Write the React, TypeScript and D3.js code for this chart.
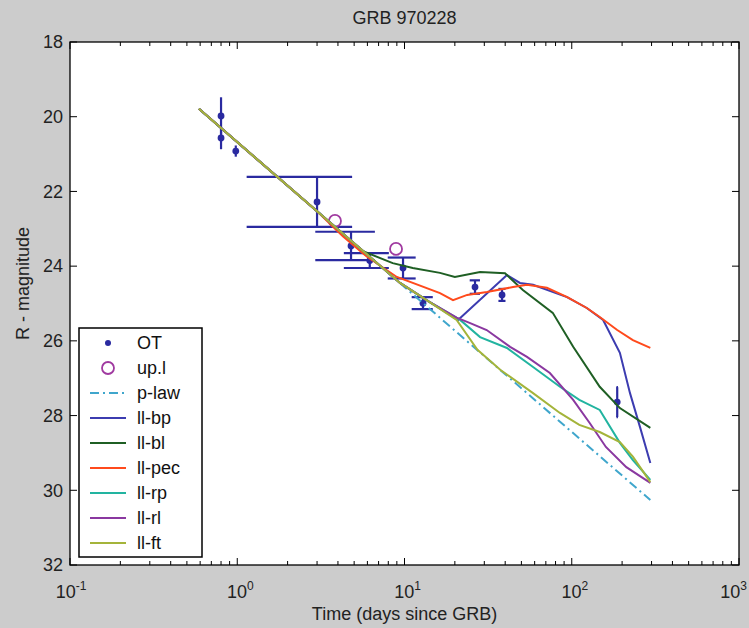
import React, { useEffect, useRef } from "react";
import * as d3 from "d3";

// observed optical transient (days, R mag, 1-sigma)
const otTime = [0.8, 0.8, 0.98, 3.0, 4.79, 6.2, 9.8, 12.9, 26.4, 38.3, 187];
const otMag = [19.98, 20.57, 20.92, 22.28, 23.46, 23.85, 24.05, 24.99, 24.56, 24.77, 27.64];
const otErr = [0.5, 0.3, 0.15, 0.67, 0.38, 0.2, 0.28, 0.16, 0.18, 0.16, 0.4];

// upper limits
const ulTime = [3.84, 8.9];
const ulMag = [22.79, 23.54];

// model curves [days, mag]
const pLaw = [[0.59, 19.79], [295, 30.26]];
const llBp = [[0.59, 19.79], [3, 22.53], [9.4, 24.45], [14, 24.95], [20.9, 25.44], [41, 24.24], [49, 24.45], [58.7, 24.5], [93.7, 24.83], [123, 25.12], [154, 25.44], [194, 26.32], [223, 27.4], [256, 28.31], [295, 29.27]];
const llBl = [[0.59, 19.79], [3, 22.53], [5.65, 23.6], [8.5, 23.92], [11.2, 24.05], [16.3, 24.18], [20, 24.29], [28.3, 24.16], [39.9, 24.19], [51, 24.64], [77, 25.25], [102, 26.16], [147, 27.23], [194, 27.8], [295, 28.33]];
const llPec = [[0.59, 19.79], [3, 22.53], [4.28, 23.2], [5.97, 23.75], [9, 24.29], [16.3, 24.72], [19.5, 24.91], [23.7, 24.77], [31.1, 24.69], [44.6, 24.56], [54, 24.5], [71, 24.58], [94, 24.83], [123, 25.12], [147, 25.36], [187, 25.71], [232, 25.98], [295, 26.19]];
const llRp = [[0.59, 19.79], [3, 22.53], [9.4, 24.45], [14, 24.95], [21.5, 25.44], [28.3, 25.9], [41, 26.19], [58.7, 26.7], [85, 27.23], [111, 27.58], [147, 27.85], [194, 28.73], [232, 29.19], [295, 29.72]];
const llRl = [[0.59, 19.79], [3, 22.53], [9.4, 24.45], [14, 24.95], [20.5, 25.38], [24.5, 25.52], [31, 25.71], [42.8, 26.16], [54, 26.43], [74, 26.86], [102, 27.58], [128, 28.2], [160, 28.84], [212, 29.38], [295, 29.8]];
const llFt = [[0.59, 19.79], [3, 22.53], [9.4, 24.45], [14, 24.95], [20.5, 25.44], [27.3, 26.24], [37.5, 26.78], [58.7, 27.4], [85, 27.93], [111, 28.25], [147, 28.44], [194, 28.71], [232, 29.1], [295, 29.78]];

const xTickExp = [-1, 0, 1, 2, 3];
const yTicks = [18, 20, 22, 24, 26, 28, 30, 32];

const seriesNames = ["OT", "up.l", "p-law", "ll-bp", "ll-bl", "ll-pec", "ll-rp", "ll-rl", "ll-ft"];

const W = 749;
const H = 628;
const FONT = "'Liberation Sans', Arial, sans-serif";

export default function App() {
    const ref = useRef<SVGSVGElement>(null);

    useEffect(() => {
        const svg = d3.select(ref.current);
        svg.selectAll("*").remove();

        const left = 70, right = 739, top = 42, bottom = 565;
        const x = d3.scaleLog().domain([0.1, 1000]).range([left, right]);
        const y = d3.scaleLinear().domain([18, 32]).range([top, bottom]);

        svg.append("rect").attr("width", W).attr("height", H).attr("fill", "#cccccc");
        svg.append("rect")
            .attr("x", left).attr("y", top)
            .attr("width", right - left).attr("height", bottom - top)
            .attr("fill", "#ffffff");

        const colors: Record<string, string> = {
            "p-law": "#3fa6cc",
            "ll-bp": "#3c3cb0",
            "ll-bl": "#1f5f24",
            "ll-pec": "#ff4a1c",
            "ll-rp": "#22b4a0",
            "ll-rl": "#8a38a0",
            "ll-ft": "#a4b43a",
        };
        const otColor = "#2a2aa0";
        const ulColor = "#a03aa0";

        const plot = svg.append("g");

        // error bars, cap half-width is 1% of the time span (in days)
        const tee = (d3.max(otTime)! - d3.min(otTime)!) / 100;
        otTime.forEach((t, i) => {
            const lo = otMag[i] - otErr[i];
            const hi = otMag[i] + otErr[i];
            plot.append("line")
                .attr("x1", x(t)).attr("x2", x(t))
                .attr("y1", y(lo)).attr("y2", y(hi))
                .attr("stroke", otColor).attr("stroke-width", 2.2);
            if (t - tee > 0) {
                [lo, hi].forEach((m) => {
                    plot.append("line")
                        .attr("x1", x(t - tee)).attr("x2", x(t + tee))
                        .attr("y1", y(m)).attr("y2", y(m))
                        .attr("stroke", otColor).attr("stroke-width", 2.2);
                });
            }
            plot.append("circle")
                .attr("cx", x(t)).attr("cy", y(otMag[i]))
                .attr("r", 3.4).attr("fill", otColor);
        });

        ulTime.forEach((t, i) => {
            plot.append("circle")
                .attr("cx", x(t)).attr("cy", y(ulMag[i]))
                .attr("r", 6).attr("fill", "none")
                .attr("stroke", ulColor).attr("stroke-width", 1.8);
        });

        const line = d3.line<number[]>()
            .x((d) => x(d[0]))
            .y((d) => y(d[1]));

        const curves: [string, number[][]][] = [
            ["p-law", pLaw],
            ["ll-bp", llBp],
            ["ll-bl", llBl],
            ["ll-pec", llPec],
            ["ll-rp", llRp],
            ["ll-rl", llRl],
            ["ll-ft", llFt],
        ];
        curves.forEach(([name, data]) => {
            plot.append("path")
                .datum(data)
                .attr("fill", "none")
                .attr("stroke", colors[name])
                .attr("stroke-width", 2)
                .attr("stroke-dasharray", name === "p-law" ? "9,4,2,4" : null)
                .attr("d", line);
        });

        // axes: inward ticks on all four sides
        const minor: number[] = [];
        for (let e = -1; e < 3; e++) {
            for (let k = 2; k <= 9; k++) minor.push(k * Math.pow(10, e));
        }
        const major = xTickExp.map((e) => Math.pow(10, e));
        const ax = svg.append("g").attr("stroke", "#000").attr("stroke-width", 1);
        [bottom, top].forEach((yy) => {
            const dir = yy === bottom ? -1 : 1;
            minor.forEach((v) => {
                ax.append("line").attr("x1", x(v)).attr("x2", x(v))
                    .attr("y1", yy).attr("y2", yy + dir * 4);
            });
            major.forEach((v) => {
                ax.append("line").attr("x1", x(v)).attr("x2", x(v))
                    .attr("y1", yy).attr("y2", yy + dir * 7);
            });
        });
        [left, right].forEach((xx) => {
            const dir = xx === left ? 1 : -1;
            yTicks.forEach((v) => {
                ax.append("line").attr("x1", xx).attr("x2", xx + dir * 7)
                    .attr("y1", y(v)).attr("y2", y(v));
            });
        });
        svg.append("rect")
            .attr("x", left).attr("y", top)
            .attr("width", right - left).attr("height", bottom - top)
            .attr("fill", "none").attr("stroke", "#000").attr("stroke-width", 1.3);

        const txt = svg.append("g").attr("font-family", FONT).attr("fill", "#222");

        yTicks.forEach((v) => {
            txt.append("text")
                .attr("x", left - 7).attr("y", y(v))
                .attr("dy", "0.35em")
                .attr("text-anchor", "end")
                .attr("font-size", 18)
                .text(v);
        });

        xTickExp.forEach((e, i) => {
            const last = i === xTickExp.length - 1;
            const t = txt.append("text")
                .attr("x", last ? W - 2 : x(Math.pow(10, e)) + (e < 0 ? 1 : 3))
                .attr("y", 598)
                .attr("text-anchor", last ? "end" : "middle")
                .attr("font-size", 18);
            t.append("tspan").text("10");
            t.append("tspan").attr("dy", -8).attr("font-size", 12).text(e);
        });

        txt.append("text")
            .attr("x", (left + right) / 2).attr("y", 620)
            .attr("text-anchor", "middle").attr("font-size", 18)
            .text("Time (days since GRB)");

        txt.append("text")
            .attr("transform", `translate(29,${(top + bottom) / 2 - 20}) rotate(-90)`)
            .attr("text-anchor", "middle").attr("font-size", 18)
            .text("R - magnitude");

        txt.append("text")
            .attr("x", (left + right) / 2).attr("y", 24)
            .attr("text-anchor", "middle").attr("font-size", 18)
            .text("GRB 970228");

        // legend
        const lg = svg.append("g");
        lg.append("rect")
            .attr("x", 79).attr("y", 328).attr("width", 123).attr("height", 229)
            .attr("fill", "#fff").attr("stroke", "#000").attr("stroke-width", 1.5);
        seriesNames.forEach((name, i) => {
            const yy = 343 + i * 25;
            if (name === "OT") {
                lg.append("circle").attr("cx", 108).attr("cy", yy).attr("r", 3).attr("fill", otColor);
            } else if (name === "up.l") {
                lg.append("circle").attr("cx", 108).attr("cy", yy).attr("r", 6)
                    .attr("fill", "none").attr("stroke", ulColor).attr("stroke-width", 1.8);
            } else {
                lg.append("line")
                    .attr("x1", 90).attr("x2", 126).attr("y1", yy).attr("y2", yy)
                    .attr("stroke", colors[name]).attr("stroke-width", 2)
                    .attr("stroke-dasharray", name === "p-law" ? "9,4,2,4" : null);
            }
            lg.append("text")
                .attr("x", 137).attr("y", yy).attr("dy", "0.35em")
                .attr("font-family", FONT).attr("font-size", 18).attr("fill", "#111")
                .text(name);
        });
    }, []);

    return (
        <svg
            ref={ref}
            width={W}
            height={H}
            style={{ position: "absolute", left: 0, top: 0 }}
        />
    );
}
